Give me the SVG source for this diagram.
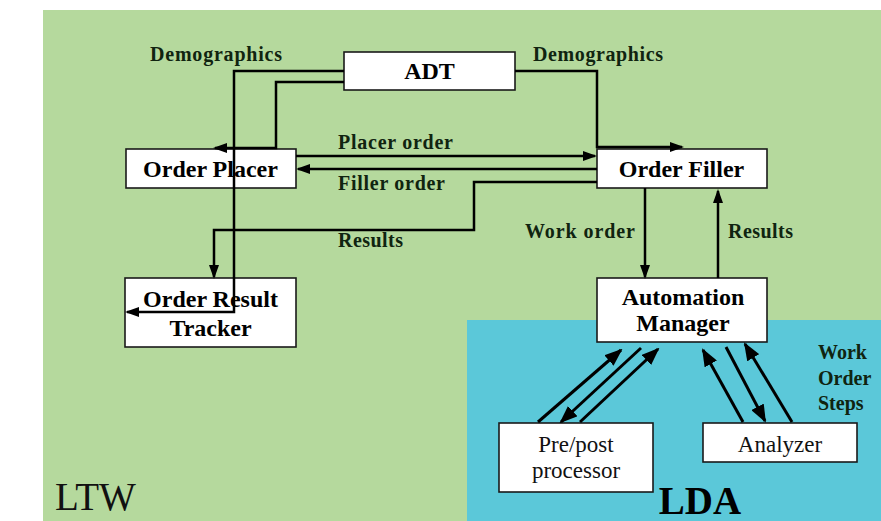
<svg xmlns="http://www.w3.org/2000/svg" width="881" height="521" viewBox="0 0 881 521">
<style>
.box{fill:#ffffff;stroke:#1a1a1a;stroke-width:1.6}
.bt{font-family:"Liberation Serif","Times New Roman",serif;font-weight:bold;font-size:24px;fill:#000;text-anchor:middle}
.rt{font-family:"Liberation Serif","Times New Roman",serif;font-size:23px;fill:#111;text-anchor:middle}
.lb{font-family:"Liberation Serif","Times New Roman",serif;font-weight:bold;font-size:20px;fill:#102410}
.cn{fill:none;stroke:#000;stroke-width:2.5}
.dg{fill:none;stroke:#000;stroke-width:3}
</style>
<defs>
<marker id="ah" viewBox="0 0 14 10" refX="12" refY="5" markerWidth="14" markerHeight="10" markerUnits="userSpaceOnUse" orient="auto"><path d="M0,0 L14,5 L0,10 z" fill="#000"/></marker>
<marker id="ah2" viewBox="0 0 18 14" refX="16" refY="7" markerWidth="18" markerHeight="14" markerUnits="userSpaceOnUse" orient="auto"><path d="M0,0 L18,7 L0,14 z" fill="#000"/></marker>
</defs>
<rect x="0" y="0" width="881" height="521" fill="#ffffff"/>
<rect id="ltw-area" x="43" y="10" width="838" height="511" fill="#b5d99d"/>
<rect id="lda-area" x="467" y="320" width="414" height="201" fill="#5bc8d9"/>
<text x="55" y="510" font-family="Liberation Serif,Times New Roman,serif" font-size="39" fill="#111">LTW</text>
<text x="700" y="514" font-family="Liberation Serif,Times New Roman,serif" font-size="39" font-weight="bold" fill="#000" text-anchor="middle">LDA</text>

<g id="adt"><rect class="box" x="344" y="52" width="171" height="38"/><text class="bt" x="429.5" y="79">ADT</text></g>
<g id="order-placer"><rect class="box" x="126" y="149" width="170" height="39"/><text class="bt" x="210.5" y="177">Order Placer</text></g>
<g id="order-filler"><rect class="box" x="597" y="149" width="170" height="39"/><text class="bt" x="681.5" y="177">Order Filler</text></g>
<g id="order-result-tracker"><rect class="box" x="125" y="278" width="171" height="69"/><text class="bt" x="210.5" y="307">Order Result</text><text class="bt" x="210.5" y="336">Tracker</text></g>
<g id="automation-manager"><rect class="box" x="597" y="278" width="170" height="64"/><text class="bt" x="683" y="305">Automation</text><text class="bt" x="683" y="331">Manager</text></g>
<g id="prepost-processor"><rect class="box" x="499" y="423" width="154" height="69"/><text class="rt" x="576" y="452">Pre/post</text><text class="rt" x="576" y="478">processor</text></g>
<g id="analyzer"><rect class="box" x="703" y="423" width="154" height="39"/><text class="rt" x="780" y="452">Analyzer</text></g>

<g id="connectors">
<path class="cn" d="M344,71 H234 V312 H127" marker-end="url(#ah)"/>
<path class="cn" d="M344,82 H276 V148 H215" marker-end="url(#ah)"/>
<path class="cn" d="M515,71 H597 V147 H682" marker-end="url(#ah)"/>
<path class="cn" d="M296,156 H595" marker-end="url(#ah)"/>
<path class="cn" d="M597,169 H298" marker-end="url(#ah)"/>
<path class="cn" d="M597,182 H474 V230 H214 V277" marker-end="url(#ah)"/>
<path class="cn" d="M645,188 V277" marker-end="url(#ah)"/>
<path class="cn" d="M718,278 V191" marker-end="url(#ah)"/>
<path class="dg" d="M538,422 L621,350" marker-end="url(#ah2)"/>
<path class="dg" d="M641,348 L561,422" marker-end="url(#ah2)"/>
<path class="dg" d="M580,422 L658,349" marker-end="url(#ah2)"/>
<path class="dg" d="M743,422 L703,350" marker-end="url(#ah2)"/>
<path class="dg" d="M726,347 L765,421" marker-end="url(#ah2)"/>
<path class="dg" d="M792,422 L745,344" marker-end="url(#ah2)"/>
<text class="lb" x="150" y="61" textLength="132">Demographics</text>
<text class="lb" x="533" y="61" textLength="130">Demographics</text>
<text class="lb" x="338" y="149" textLength="115">Placer order</text>
<text class="lb" x="338" y="190" textLength="107">Filler order</text>
<text class="lb" x="338" y="247" textLength="65">Results</text>
<text class="lb" x="525" y="238" textLength="110">Work order</text>
<text class="lb" x="728" y="238" textLength="65">Results</text>
<text class="lb" x="818" y="359">Work</text>
<text class="lb" x="818" y="385">Order</text>
<text class="lb" x="818" y="410">Steps</text>
</g>
</svg>
